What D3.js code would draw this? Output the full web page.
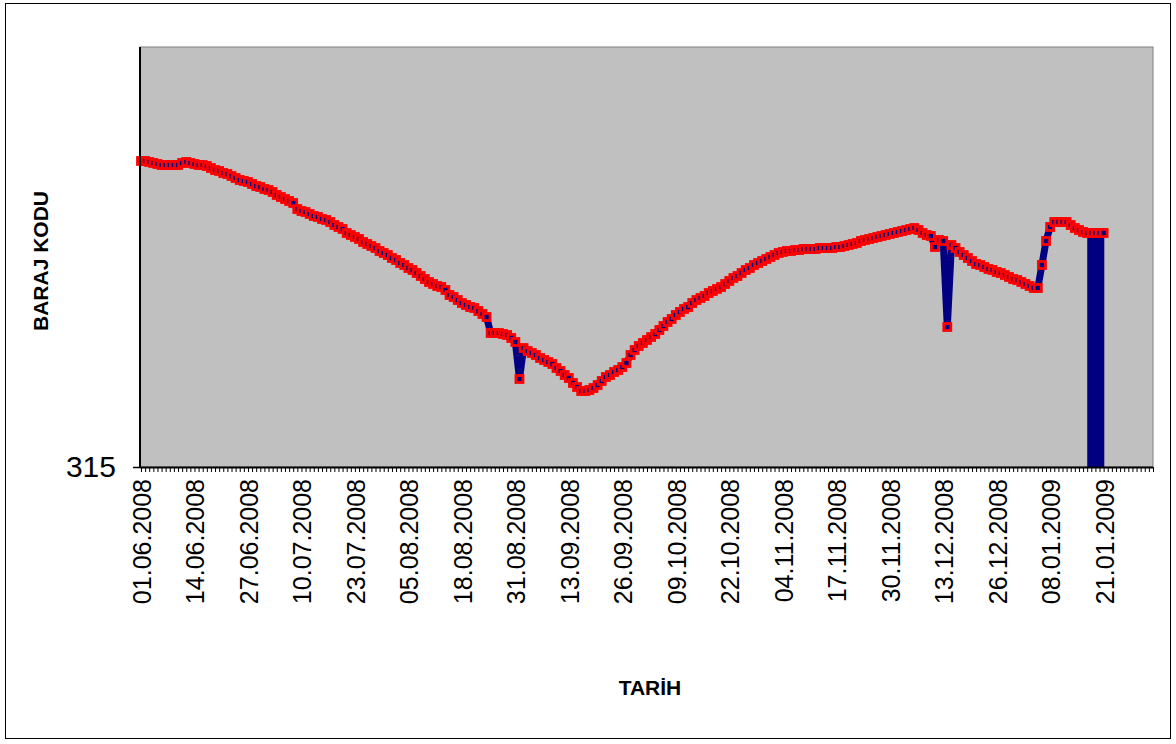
<!DOCTYPE html>
<html>
<head>
<meta charset="utf-8">
<script src="https://cdn.jsdelivr.net/npm/d3@7"></script>
<style>
  html, body { margin: 0; padding: 0; background: #fff; }
  svg { display: block; font-family: Arial, "Liberation Sans", sans-serif; }
</style>
</head>
<body>
<svg id="chart" width="1176" height="744"></svg>
<script>
// ---- DATA ----
const startDate = "01.06.2008";
const endDate = "02.02.2009";          // last category on the axis
const tickLabels = ["01.06.2008","14.06.2008","27.06.2008","10.07.2008","23.07.2008",
  "05.08.2008","18.08.2008","31.08.2008","13.09.2008","26.09.2008","09.10.2008",
  "22.10.2008","04.11.2008","17.11.2008","30.11.2008","13.12.2008","26.12.2008",
  "08.01.2009","21.01.2009"];
const yTicks = [315];
const yDomain = [315, 336];
// daily dam level (BARAJ KODU), one value per day from 01.06.2008
const kod = [
  330.30,330.30,330.25,330.20,330.15,330.10,330.10,330.10,330.10,330.10,
  330.20,330.25,330.20,330.15,330.10,330.10,330.05,329.95,329.85,329.80,
  329.70,329.65,329.55,329.45,329.35,329.30,329.25,329.15,329.05,329.00,
  328.90,328.85,328.75,328.60,328.50,328.40,328.30,328.20,327.90,327.80,
  327.75,327.65,327.55,327.50,327.40,327.35,327.25,327.10,327.00,326.90,
  326.70,326.60,326.50,326.40,326.25,326.15,326.05,325.95,325.80,325.70,
  325.60,325.45,325.35,325.20,325.10,324.95,324.85,324.70,324.55,324.40,
  324.25,324.15,324.05,324.00,323.85,323.60,323.50,323.35,323.20,323.10,
  323.00,322.95,322.80,322.65,322.50,321.70,321.70,321.70,321.65,321.60,
  321.45,321.25,319.40,320.95,320.80,320.70,320.60,320.45,320.35,320.25,
  320.15,319.95,319.80,319.60,319.45,319.20,319.00,318.80,318.80,318.85,
  318.95,319.10,319.30,319.50,319.60,319.75,319.85,320.00,320.20,320.60,
  320.85,321.05,321.20,321.35,321.50,321.65,321.85,322.05,322.25,322.40,
  322.60,322.75,322.90,323.00,323.20,323.35,323.45,323.55,323.70,323.80,
  323.90,324.00,324.15,324.30,324.45,324.55,324.70,324.85,324.95,325.10,
  325.20,325.30,325.40,325.50,325.60,325.70,325.75,325.80,325.80,325.85,
  325.85,325.90,325.90,325.90,325.90,325.95,325.95,325.95,325.95,326.00,
  326.00,326.05,326.10,326.15,326.20,326.30,326.35,326.40,326.45,326.50,
  326.55,326.60,326.65,326.70,326.75,326.80,326.85,326.90,326.95,326.85,
  326.70,326.60,326.55,326.00,326.35,326.30,322.00,326.10,325.95,325.75,
  325.60,325.45,325.30,325.15,325.10,325.00,324.90,324.85,324.75,324.70,
  324.60,324.50,324.40,324.35,324.25,324.15,324.05,323.95,323.95,325.10,
  326.30,327.00,327.25,327.25,327.25,327.25,327.10,326.95,326.85,326.75,
  326.70,326.70,326.70,326.70,326.70
];
// days drawn down to the axis at the end of the record
const dususGunleri = ["18.01.2009","19.01.2009","20.01.2009","21.01.2009"];

// ---- CHART ----
const parse = d3.timeParse("%d.%m.%Y");
const fmt = d3.timeFormat("%d.%m.%Y");
const categories = d3.timeDay.range(parse(startDate), d3.timeDay.offset(parse(endDate), 1)).map(fmt);

const svg = d3.select("#chart");
const plot = {left: 140, right: 1153, top: 47, bottom: 467};

const x = d3.scalePoint().domain(categories).range([plot.left + 1, plot.right]);
const y = d3.scaleLinear().domain(yDomain).range([plot.bottom, plot.top]);
const step = x.step();

// outer border
svg.append("rect").attr("x", 5.5).attr("y", 3.5).attr("width", 1165).attr("height", 735)
  .attr("fill", "#fff").attr("stroke", "#000").attr("stroke-width", 1);

// plot area
svg.append("rect").attr("x", plot.left).attr("y", plot.top)
  .attr("width", plot.right - plot.left).attr("height", plot.bottom - plot.top)
  .attr("fill", "#C0C0C0").attr("stroke", "#808080").attr("stroke-width", 1);

const series = kod.map((v, i) => ({d: categories[i], v}));

// drop bars at the end
svg.append("g").selectAll("rect").data(dususGunleri).join("rect")
  .attr("x", d => x(d) - step / 2 - 2)
  .attr("width", step + 0.6)
  .attr("y", d => y(kod[categories.indexOf(d)]))
  .attr("height", d => y(yDomain[0]) - y(kod[categories.indexOf(d)]))
  .attr("fill", "#000080");

// navy line
svg.append("path").datum(series)
  .attr("d", d3.line().x(d => x(d.d)).y(d => y(d.v)))
  .attr("fill", "none").attr("stroke", "#000080").attr("stroke-width", 7)
  .attr("stroke-linejoin", "round");

// markers
svg.append("g").selectAll("rect").data(series).join("rect")
  .attr("x", d => x(d.d) - 3.5).attr("y", d => y(d.v) - 3.5)
  .attr("width", 7).attr("height", 7)
  .attr("fill", "#000080").attr("stroke", "#FF0000").attr("stroke-width", 2.8);

// x axis
const xAxis = d3.axisBottom(x).tickSize(5).tickFormat("");
const gx = svg.append("g").attr("transform", `translate(0,${plot.bottom})`).call(xAxis);
gx.select(".domain").attr("stroke", "#000").attr("stroke-width", 2)
  .attr("d", `M${plot.left},0.5H${plot.right}`);
gx.selectAll(".tick line").attr("stroke", "#000").attr("stroke-width", 1);

svg.append("g").selectAll("text").data(tickLabels).join("text")
  .attr("transform", d => `translate(${x(d) + 1},479) rotate(-90)`)
  .attr("text-anchor", "end").attr("dy", "0.36em")
  .attr("font-size", 25).attr("fill", "#000").text(d => d);

// y axis
const yAxis = d3.axisLeft(y).tickValues(yTicks).tickSize(7).tickFormat(d3.format("d"));
const gy = svg.append("g").attr("transform", `translate(${plot.left},0)`).call(yAxis);
gy.select(".domain").attr("stroke", "#000").attr("stroke-width", 2)
  .attr("d", `M0,${plot.top}V${plot.bottom}`);
gy.selectAll(".tick line").attr("stroke", "#000").attr("stroke-width", 1.5);
gy.selectAll(".tick text").attr("font-size", 30).attr("x", -24).attr("fill", "#000")
  .attr("font-family", "Arial, 'Liberation Sans', sans-serif");

// titles
svg.append("text").attr("x", 650).attr("y", 695).attr("text-anchor", "middle")
  .attr("font-size", 21).attr("font-weight", "bold").text("TARİH");
svg.append("text").attr("transform", "translate(48,261) rotate(-90)")
  .attr("text-anchor", "middle").attr("font-size", 21).attr("font-weight", "bold")
  .text("BARAJ KODU");
</script>
</body>
</html>
